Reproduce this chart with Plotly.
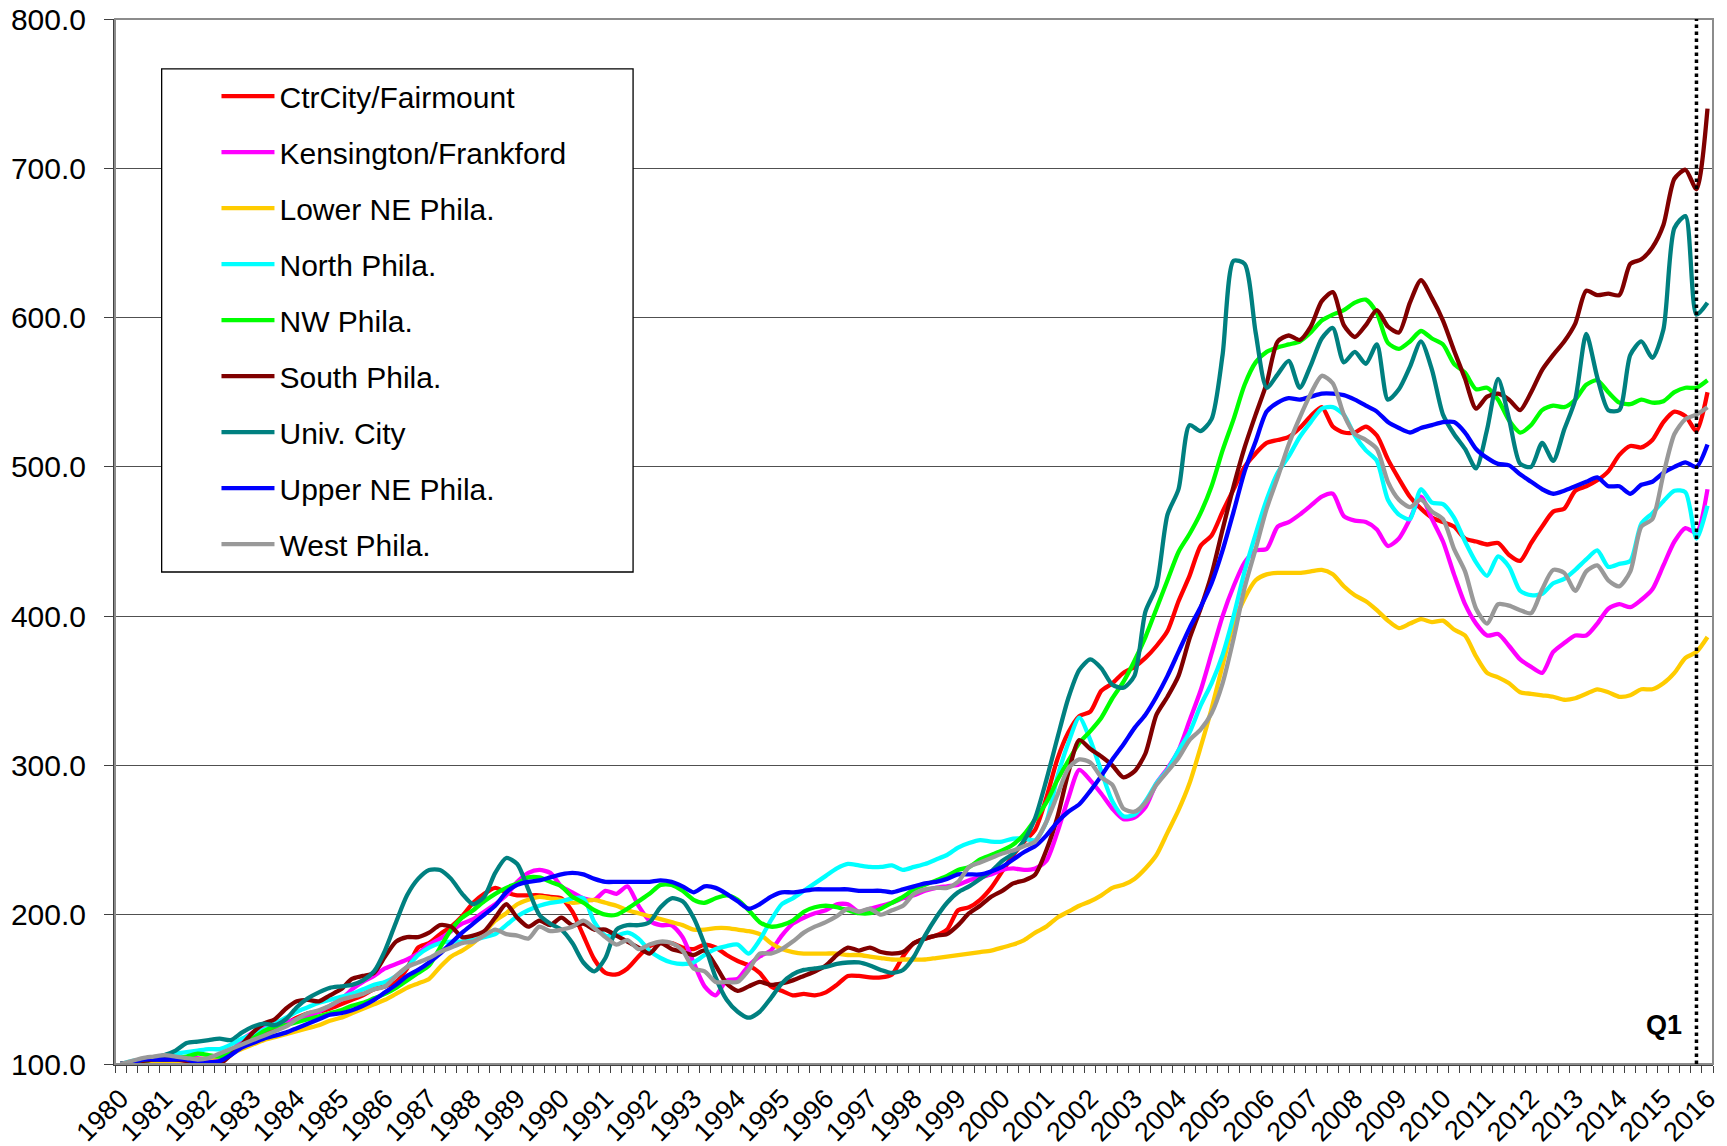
import plotly.graph_objects as go

# ---------------- data ----------------
years = list(range(1980, 2017))
year_labels = [str(y) for y in years]
# quarterly categories 1980 Q1 .. 2016 Q1 (145 quarters)
quarter_x = [y + q * 0.25 for y in years for q in range(4)][:145]

series_names = ["CtrCity/Fairmount", "Kensington/Frankford", "Lower NE Phila.", "North Phila.",
                "NW Phila.", "South Phila.", "Univ. City", "Upper NE Phila.", "West Phila."]

ctr_city = [
    100, 101, 102, 103, 103, 103, 102, 100, 101, 103,
    107, 111, 117, 121, 124, 127, 131, 134, 135, 137,
    140, 143, 146, 150, 152, 155, 164, 178, 181, 187,
    192, 199, 208, 214, 218, 215, 213, 213, 213, 212,
    211, 202, 186, 170, 161, 160, 164, 172, 179, 181,
    181, 178, 177, 180, 178, 173, 169, 166, 161, 152,
    149, 146, 147, 146, 148, 153, 159, 159, 158, 158,
    160, 172, 181, 184, 186, 190, 203, 205, 210, 218,
    229, 240, 249, 257, 278, 304, 322, 333, 336, 350,
    355, 362, 366, 372, 380, 390, 410, 427, 447, 454,
    470, 485, 500, 509, 516, 518, 520, 526, 534, 540,
    527, 523, 523, 527, 521, 505, 492, 480, 472, 466,
    463, 460, 452, 450, 448, 449, 441, 437, 449, 460,
    470, 472, 484, 487, 491, 497, 508, 514, 513, 518,
    530, 537, 534, 524, 550]

kensington = [
    100, 101, 102, 102, 103, 103, 104, 104, 103, 104,
    108, 116, 121, 124, 126, 128, 130, 132, 135, 139,
    143, 150, 155, 159, 164, 167, 170, 174, 180, 184,
    189, 194, 197, 202, 207, 213, 222, 228, 230, 228,
    219, 215, 211, 210, 216, 214, 219, 206, 196, 193,
    193, 185, 168, 152, 146, 156, 157, 166, 172, 176,
    186, 194, 198, 201, 203, 207, 207, 202, 204, 206,
    208, 211, 213, 216, 218, 219, 220, 223, 225, 227,
    230, 231, 230, 231, 236, 255, 278, 297, 290, 281,
    271, 264, 265, 272, 288, 298, 310, 330, 350, 375,
    400, 420, 436, 444, 445, 460, 463, 468, 474, 480,
    482, 467, 464, 463, 458, 447, 452, 465, 480, 465,
    450, 428, 408, 395, 387, 388, 380, 371, 366, 362,
    376, 382, 387, 387, 395, 405, 408, 406, 411, 418,
    434, 450, 459, 456, 485]

lower_ne = [
    100, 100, 101, 101, 102, 102, 103, 103, 104, 105,
    107, 110, 113, 116, 118, 120, 122, 124, 126, 129,
    131, 134, 137, 140, 143, 147, 151, 154, 157, 165,
    172, 176, 181, 188, 196, 201, 207, 210, 212, 211,
    210, 208, 209, 210, 208, 206, 203, 201, 199, 197,
    195, 193, 190, 190, 191, 191, 190, 189, 187, 181,
    177, 175, 174, 174, 174, 174, 173, 173, 172, 171,
    170, 170, 170, 170, 171, 172, 173, 174, 175, 176,
    178, 180, 183, 188, 192, 198, 202, 206, 209, 213,
    218, 220, 224, 231, 240, 255, 270, 288, 312, 338,
    367, 395, 412, 424, 428, 429, 429, 429, 430, 431,
    428, 420, 414, 410, 404, 397, 392, 395, 398, 396,
    397, 391, 387, 373, 362, 359, 355, 349, 348, 347,
    346, 344, 345, 348, 351, 349, 346, 347, 351, 351,
    355, 362, 372, 376, 386]

north = [
    100, 102, 103, 104, 106, 107, 108, 109, 110, 110,
    113, 117, 120, 123, 127, 131, 135, 138, 141, 143,
    145, 147, 150, 153, 155, 159, 165, 173, 178, 181,
    182, 182, 183, 185, 187, 193, 199, 203, 206, 208,
    209, 211, 211, 195, 186, 186, 188, 184, 176, 171,
    168, 167, 168, 173, 177, 179, 180, 174, 183, 196,
    207, 211, 216, 221, 226, 231, 234, 233, 232, 232,
    233, 230, 232, 234, 237, 240, 245, 248, 250, 249,
    249, 251, 251, 250, 262, 292, 315, 332, 317, 296,
    276, 266, 267, 276, 288, 297, 310, 322, 340, 355,
    374, 400, 430, 455, 478, 496, 507, 520, 530, 539,
    540, 535, 521, 511, 504, 478, 468, 465, 485, 476,
    475, 466, 450, 436, 427, 440, 433, 417, 414, 415,
    422, 425, 431, 438, 444, 433, 435, 437, 462, 469,
    477, 484, 483, 452, 474]

northwest = [
    100, 101, 102, 103, 103, 104, 105, 107, 106, 105,
    108, 112, 117, 122, 125, 126, 128, 130, 132, 134,
    136, 139, 141, 144, 147, 151, 156, 161, 166, 178,
    190, 198, 203, 209, 214, 218, 221, 225, 225, 222,
    219, 212, 208, 203, 200, 200, 204, 209, 214, 220,
    220, 216, 210, 208, 211, 213, 210, 203, 195, 192,
    193, 196, 202, 205, 206, 205, 203, 201, 201, 204,
    208, 212, 217, 220, 223, 226, 230, 232, 237, 240,
    243, 247, 254, 264, 275, 290, 303, 315, 323, 332,
    345, 356, 370, 386, 405, 424, 443, 455, 469, 487,
    511, 532, 555, 570, 577, 580, 582, 584, 590, 598,
    602, 605, 610, 612, 603, 583, 579, 584, 591, 586,
    582, 569, 563, 552, 553, 545, 531, 523, 528, 538,
    541, 540, 545, 555, 558, 550, 543, 542, 545, 543,
    544, 550, 553, 553, 558]

south = [
    100, 101, 102, 103, 103, 103, 102, 100, 100, 100,
    106, 113, 121, 127, 130, 137, 142, 143, 142, 146,
    150, 157, 159, 161, 172, 182, 185, 185, 188, 193,
    192, 185, 186, 189, 198, 207, 198, 192, 196, 193,
    198, 193, 194, 190, 190, 186, 182, 178, 174, 181,
    177, 175, 173, 176, 166, 154, 149, 152, 155, 153,
    154, 156, 159, 162, 166, 173, 178, 176, 178, 175,
    174, 175, 181, 184, 186, 187, 193, 201, 206, 212,
    216, 221, 223, 227, 243, 265, 295, 317, 311, 306,
    300, 292, 296, 308, 334, 346, 360, 385, 405, 428,
    458, 487, 513, 535, 556, 584, 588, 585, 594, 611,
    617, 595, 587, 595, 605, 594, 590, 610, 625, 613,
    598, 578, 559, 539, 547, 549, 545, 538, 550, 565,
    575, 584, 596, 618, 615, 616, 615, 636, 639, 647,
    662, 693, 699, 686, 740]

univ_city = [
    100, 101, 103, 104, 106, 109, 114, 115, 116, 117,
    116, 121, 125, 127, 126, 130, 138, 144, 148, 151,
    152, 153, 156, 162, 176, 195, 213, 224, 230, 230,
    224, 214, 207, 212, 228, 238, 234, 217, 200, 194,
    190, 181, 168, 162, 171, 190, 193, 193, 195, 205,
    211, 209, 198, 180, 158, 143, 135, 131, 135, 144,
    154, 160, 163, 164, 165, 167, 168, 168, 166, 163,
    161, 163, 172, 186, 198, 208, 215, 219, 224, 229,
    236, 241, 250, 265, 290, 318, 345, 364, 371, 365,
    354, 352, 360, 403, 420, 468, 485, 528, 524, 532,
    575, 638, 636, 590, 553, 562, 571, 553, 568, 586,
    593, 570, 577, 569, 582, 545, 552, 567, 584, 565,
    535, 522, 512, 499, 525, 559, 532, 502, 500, 516,
    504, 525, 545, 589, 560, 538, 538, 575, 584, 573,
    592, 660, 668, 602, 610]

upper_ne = [
    100, 101, 103, 103, 103, 103, 103, 101, 101, 102,
    106, 111, 114, 117, 119, 121, 124, 127, 130, 133,
    134, 136, 139, 143, 148, 153, 159, 163, 168, 174,
    181, 188, 194, 200, 206, 215, 220, 222, 223, 225,
    227, 228, 227, 224, 222, 222, 222, 222, 222, 223,
    222, 219, 215, 219, 218, 214, 209, 204, 207, 212,
    215, 215, 216, 217, 217, 217, 217, 216, 216, 216,
    215, 217, 219, 221, 222, 224, 227, 227, 227, 229,
    232, 237, 242, 246, 253, 262, 269, 274, 283, 293,
    304, 314, 325, 334, 346, 360, 376, 392, 406, 422,
    444, 470, 497, 517, 537, 543, 546, 545, 547, 549,
    549, 548, 545, 541, 537, 530, 526, 523, 526, 528,
    530, 530, 523, 512, 506, 502, 501, 495, 490, 485,
    482, 484, 487, 490, 493, 487, 487, 482, 488, 490,
    496, 500, 503, 500, 515]

west = [
    100, 102, 104, 105, 106, 105, 104, 103, 104, 107,
    110, 113, 116, 119, 122, 125, 130, 134, 136, 139,
    143, 145, 147, 150, 152, 159, 165, 168, 171, 175,
    178, 181, 182, 186, 190, 187, 186, 184, 192, 189,
    190, 192, 196, 191, 185, 180, 183, 177, 180, 182,
    181, 176, 164, 162, 155, 155, 155, 163, 174, 174,
    177, 182, 188, 192, 195, 199, 204, 202, 204, 200,
    203, 206, 214, 217, 218, 218, 222, 232, 235, 238,
    241, 243, 246, 249, 262, 280, 298, 304, 302, 292,
    287, 271, 269, 275, 287, 296, 305, 317, 324, 335,
    355, 385, 419, 445, 472, 493, 515, 533, 549, 561,
    556, 535, 522, 518, 512, 490, 478, 473, 478, 470,
    465, 445, 430, 405, 395, 408, 407, 404, 402, 418,
    431, 429, 417, 430, 434, 424, 420, 430, 460, 465,
    495, 522, 532, 535, 540]

series_values = [ctr_city, kensington, lower_ne, north, northwest,
                 south, univ_city, upper_ne, west]
series_colors = ["#FF0000", "#FF00FF", "#FFCC00", "#00FFFF", "#00FF00",
                 "#800000", "#008080", "#0000FF", "#999999"]

marker_quarter = quarter_x[143]   # dotted "Q1" marker line
marker_label = "Q1"

# ---------------- figure ----------------
FONT = "Liberation Sans, Arial, Helvetica, sans-serif"
fig = go.Figure()
for name, vals, col in zip(series_names, series_values, series_colors):
    fig.add_trace(go.Scatter(
        x=quarter_x, y=vals, mode="lines", name=name, legendgroup=name,
        line=dict(color=col, width=4.3, shape="spline", smoothing=0.7),
        hoverinfo="x+y+name"))

# legend frame (white box covering gridlines; no data lies under it)
fig.add_shape(type="rect", xref="paper", yref="paper",
              x0=0.0292, x1=0.3242, y0=0.4708, y1=0.9522,
              line=dict(color="black", width=1.3), fillcolor="white", layer="above")
# plot-area border
fig.add_shape(type="rect", xref="paper", yref="paper", x0=0, x1=1, y0=0, y1=1,
              line=dict(color="#8C8C8C", width=2), layer="above")
# dotted marker line
fig.add_shape(type="line", xref="x", yref="y", x0=marker_quarter, x1=marker_quarter,
              y0=100, y1=800, line=dict(color="black", width=3.5, dash="dot"), layer="above")
fig.add_annotation(x=marker_quarter, y=126, xref="x", yref="y", text="<b>" + marker_label + "</b>",
                   showarrow=False, xanchor="right", yanchor="middle", xshift=-12,
                   font=dict(family=FONT, size=27, color="black"))

fig.update_layout(
    width=1727, height=1146,
    margin=dict(l=115, r=14, t=19, b=82, autoexpand=False),
    paper_bgcolor="white", plot_bgcolor="white",
    font=dict(family=FONT, color="black"),
    showlegend=True,
    legend=dict(x=0.0635, y=0.951, xanchor="left", yanchor="top",
                font=dict(family=FONT, size=30, color="black"),
                bgcolor="rgba(0,0,0,0)", borderwidth=0,
                traceorder="grouped", tracegroupgap=14, itemwidth=53),
)
fig.update_xaxes(
    range=[1979.875, 2016.125], tickmode="array", tickvals=years, ticktext=year_labels,
    tickangle=-45, tickfont=dict(family=FONT, size=27, color="black"),
    ticks="", ticklabelstandoff=6, automargin=False,
    showgrid=False, zeroline=False,
    showline=True, linecolor="#404040", linewidth=2,
    minor=dict(ticks="outside", tick0=1979.875, dtick=0.25, ticklen=7,
               tickcolor="#404040", tickwidth=1, showgrid=False),
)
fig.update_yaxes(
    range=[100, 800], tick0=100, dtick=100, tickformat=".1f",
    tickfont=dict(family=FONT, size=30, color="black"),
    ticks="outside", ticklen=9, tickcolor="#404040", ticklabelstandoff=12,
    automargin=False,
    showgrid=True, gridcolor="#505050", gridwidth=1, zeroline=False,
    showline=True, linecolor="#404040", linewidth=2,
)

fig.write_html("out.html", config={"displayModeBar": False},
               post_script="document.body.style.margin='0px';")
